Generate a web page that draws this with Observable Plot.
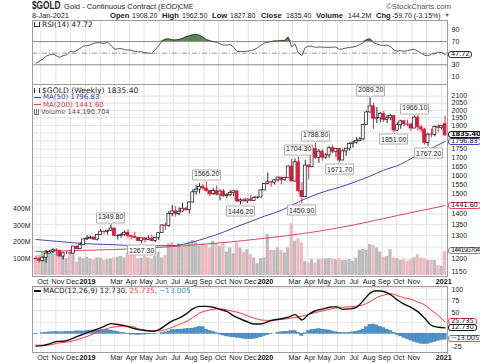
<!DOCTYPE html>
<html><head><meta charset="utf-8">
<script src="https://cdn.jsdelivr.net/npm/d3@7"></script>
<script src="https://cdn.jsdelivr.net/npm/@observablehq/plot@0.6"></script>
<style>
html,body{margin:0;padding:0;background:#fff;}
#c{position:relative;width:480px;height:363px;overflow:hidden;font-family:"Liberation Sans",Arial,sans-serif;color:#222;}
#c svg{position:absolute;left:0;overflow:visible;}
.t{position:absolute;white-space:nowrap;line-height:1;}
.lg{font-family:"DejaVu Sans",Verdana,sans-serif;}
.vb{position:absolute;left:448px;height:5px;line-height:5px;font-size:6.8px;padding:0 2px;border:1px solid #333;border-radius:3px;background:#fff;white-space:nowrap;color:#222;font-family:"DejaVu Sans",Verdana,sans-serif;letter-spacing:-0.2px;}
.ic{display:inline-block;vertical-align:middle;margin-right:2px;}
</style></head>
<body><div id="c"></div>
<script>
// ---------------- DATA ----------------
const weekStart = "2018-09-21"; // first weekly bar (weeks follow every 7 days)
const opens = [
1201,1199,1192,1205,1222,1229,1236,1233,1210,1223,1223,1222,1252,1241,1258,
1283,1287,1291,1282,1303,1318,1316,1322,1332,1298,1299,1303,1313,1298,1295,1290,1276,1288,1281,1287,1277,1289,1311,1346,1344,1400,1413,1400,1412,1426,1419,1457,1509,1523,1537,1529,1515,1499,1515,1497,1513,1489,1494,1505,1514,1462,1468,1463,1472,1465,1481,1482,
1519,1553,1562,1560,1572,1587,1573,1586,1649,1566,1673,1516,1484,1654,1645,1752,1698,1735,1700,1713,1756,1735,1751,1683,1737,1753,1781,1790,1801,1810,1902,1986,2028,1944,1947,1975,1934,1947,1962,1866,1900,1926,1906,1905,1879,1951,1886,1872,1788,1840,1839,1888,
1883,1908.2];
const highs = [
1212,1206,1209,1234,1234,1244,1243,1237,1224,1230,1237,1252,1255,1269,1286,
1300,1298,1296,1306,1327,1320,1323,1349.8,1335,1304,1310,1321,1327,1301,1315,1293,1290,1289,1300,1303,1289,1311,1349,1358,1412,1443,1438,1431,1453,1433,1460,1522,1546,1555,1551,1566.2,1520,1528,1541,1522,1524,1502,1518,1519,1516,1476,1477,1474,1494,1488,1486,1520,
1553,1613,1564,1575,1590,1589,1589,1651,1691,1692,1704.3,1560,1685,1658,1753,1788.8,1748,1747,1724,1765,1775,1752,1756,1747,1753,1788,1800,1820,1820,1904,1994,2089.2,2050,2020,1985,1992,1967,1973,1965,1917,1933,1934,1934,1912,1966.1,1965,1898,1881,1848,1875,1895,1907,
1897,1962.5];
const lows = [
1195,1183,1187,1182,1222,1223,1212,1209,1196,1219,1215,1222,1238,1241,1256,
1279,1283,1279,1276,1302,1304,1302,1320,1297,1280,1289,1297,1286,1281,1287,1273,1267.3,1268,1279,1273,1270,1279,1310,1325,1338,1387,1385,1392,1408,1413,1400,1455,1494,1500,1520,1510,1485,1493,1490,1465,1482,1478,1485,1487,1456,1446.2,1457,1452,1460,1463,1474,1481,
1517,1549,1536,1548,1563,1549,1566,1585,1565,1563,1506,1450.9,1482,1576,1644,1690,1667,1680,1690,1697,1722,1700,1671.7,1683,1707,1739,1757,1780,1796,1802,1900,1980,1874,1911,1916,1918,1911,1931,1851,1860,1874,1890,1890,1860,1877,1862,1855,1775,1767.2,1820,1826,1853,
1869,1827.8];
const closes = [
1199,1192,1205,1222,1229,1236,1233,1210,1223,1223,1222,1252,1241,1258,1283,
1287,1291,1282,1303,1318,1316,1322,1332,1298,1299,1303,1313,1298,1295,1290,1276,1288,1281,1287,1277,1289,1311,1346,1344,1400,1413,1400,1412,1426,1419,1457,1509,1523,1537,1529,1515,1499,1515,1497,1513,1489,1494,1505,1514,1462,1468,1463,1472,1465,1481,1482,1519,
1553,1562,1560,1572,1587,1573,1586,1649,1566,1673,1516,1484,1654,1645,1752,1698,1735,1700,1713,1756,1735,1751,1683,1737,1753,1781,1790,1801,1810,1902,1986,2028,1944,1947,1975,1934,1947,1962,1866,1900,1926,1906,1905,1879,1951,1886,1872,1788,1840,1839,1888,1883,
1895,1835.4];
// weekly volume, millions
const volumesM = [
100,120,140,150,140,150,130,120,140,100,120,140,80,110,100,110,100,95,105,105,
90,95,100,105,110,115,105,135,120,120,100,105,115,105,100,115,140,105,120,190,
195,180,190,170,185,200,210,200,175,190,180,165,205,190,175,195,140,165,130,195,
165,140,155,125,105,70,100,105,245,150,150,165,150,135,165,310,205,220,195,85,
75,95,75,95,95,100,100,100,95,100,90,90,95,85,105,150,155,150,185,180,
165,140,110,115,155,105,100,90,95,85,95,105,125,105,100,90,90,90,60,55,
144.19];
const lastVolume = 144190704;
// RSI(14), weekly
const rsi = [
32.5,36,40,45,47,48.5,45.5,43,46,47, 53,52,55,58.5,62.5,63,64.5,67,68,68,
67,69,64,57,57.5,58,56,55.6,55,53, 52.5,52.5,51,50,50,56,63,71,74,74.5,
73,72.8,73.8,75.5,78.2,80,81.6,82.4,81,78, 73.5,71.5,70,68.8,66,64,64,65,60,53,
53,53,53.5,54.5,56,59.5,63.5,67.5,69,70, 71,71,72,72,78,61,66,50,46,60,
62,62,60,60.7,60.6,60,60,60.5,60.5,56.5, 57.5,59,60,60.6,62,65,68,73,75,68,
66,64,63.5,64,61.5,55.5,53.5,54.4,53.4,54.5, 55.8,56.6,53.5,50,46.5,45.5,48.6,49,51.8,51,
47.72];
// MACD(12,26,9) line and signal, read every second week
const macdLine = [-27,-26,-22,-17,-16.5,-13,-6.5,-1,5,10, 16,22,20,17.5,13,9,7,5.3,8.5,18,
28,34,42.5,54,59.5,59.6,57.5,53,48.5,39, 32,26,21,21,26,30.5,32.5,36,41.5,30,
42,50,53.5,57.5,59,53,54,57.5,72,88.5, 93.5,92,85,73.5,64.5,57.5,48,34,18,14, 12.73];
const signalLine = [-25,-25,-24.5,-21,-19,-17.5,-13,-8.5,-3,3, 9,13.5,15.5,16.5,16,11,8,6,6,9,
14,20,26,35,45,50,53,54,52,48.5, 45,39,34,30,29,29.5,31,33,35.5,38,
42,46,49.5,53,56,57.5,58.5,60,63,69.5, 79,84,87,83,78,75,69,63,51,40, 25.735];
// MACD histogram, weekly
const histogram = [
-1,0,1, 2,3,3,4,3,3,4,4,4,5,5, 5,6,6,7, 7,8,8,8,7, 5,4,2,1,
-1,-2,-2,-3,-2,-2,-1,-1,-1,0, 2,3,5, 8,8,9,9,10,10,11, 13,15,14, 9,6,4,
1,-2,-4,-6,-7,-8,-9,-10, -11,-12,-12,-11,-10,-8, -5,-3,-1,0, 2,3,4,4, 6,6, 2, -5,1,
6,8,9,10,9,8,7, 5,3,2,1,1,2,3, 4,6,9, 14,19,20,18,15, 12,9,6, 2, -3,-6,-9,
-12,-15,-18,-20,-22,-23,-22, -20,-18,-16,-14,-13.005];
// moving averages
const ma50Dates = ["2018-09-21","2018-11-02","2018-12-28","2019-03-01","2019-05-03","2019-06-28","2019-08-02","2019-09-06","2019-10-04","2019-11-01","2019-12-06","2020-01-03","2020-02-07","2020-03-13","2020-04-10","2020-05-08","2020-06-05","2020-07-03","2020-08-07","2020-09-04","2020-10-09","2020-11-06","2020-12-04","2021-01-08"];
const ma50Values = [1283,1275,1265,1260,1255,1256,1268,1290,1310,1335,1365,1390,1418,1460,1490,1515,1535,1560,1595,1628,1662,1705,1745,1796.83];
const ma200Dates = ["2018-09-21","2018-12-28","2019-04-26","2019-07-26","2019-10-25","2020-01-03","2020-04-03","2020-07-03","2020-10-02","2021-01-08"];
const ma200Values = [1231,1236,1244,1256,1272,1288,1313,1348,1393,1441.6];
// annotated highs and lows
const annDates = ["2019-02-22","2019-04-26","2019-09-06","2019-11-15","2020-03-13","2020-03-20","2020-04-17","2020-06-05","2020-08-07","2020-09-25","2020-11-06","2020-12-04"];
const annPrices = [1349.8,1267.3,1566.2,1446.2,1704.3,1450.9,1788.8,1671.7,2089.2,1851.0,1966.1,1767.2];
const annKinds = ["high","low","high","low","high","low","high","low","high","low","high","low"];
// axes
const priceGrid = [1150,1200,1250,1300,1350,1400,1450,1500,1550,1600,1650,1700,1750,1800,1850,1900,1950,2000,2050,2100];
const priceTickLabels = [1150,1200,1300,1350,1400,1500,1550,1600,1650,1700,1750,1900,1950,2000,2050,2100];
const volTicks = [100,200,300,400];
const rsiTicks = [10,30,70,90];
const macdGrid = [-25,0,25,50,75,100];
const macdTickLabels = [-25,50,75,100];
const monthTickDates = ["2018-10-01","2018-11-01","2018-12-01","2019-01-01","2019-03-01","2019-04-01","2019-05-01","2019-06-01","2019-07-01","2019-08-01","2019-09-01","2019-10-01","2019-11-01","2019-12-01","2020-01-01","2020-03-01","2020-04-01","2020-05-01","2020-06-01","2020-07-01","2020-08-01","2020-09-01","2020-10-01","2020-11-01","2021-01-01"];
const monthTickLabels = ["Oct","Nov","Dec","2019","Mar","Apr","May","Jun","Jul","Aug","Sep","Oct","Nov","Dec","2020","Mar","Apr","May","Jun","Jul","Aug","Sep","Oct","Nov","2021"];
const header = {symbol:"$GOLD", name:"Gold - Continuous Contract (EOD)", exch:"CME", date:"8-Jan-2021", volume:"144.2M", chg:"-59.70 (-3.15%)"};

// ---------------- BUILD ----------------
const c = document.getElementById("c");
const DAY = 864e5;
const RED = "#dc1a3c";
const xDomain = [new Date("2018-09-14"), new Date("2021-01-13")];
const xOpt = {type:"utc", domain:xDomain, axis:null};
const weeks = closes.map((_, i) => new Date(Date.parse(weekStart) + 7 * i * DAY));
const candles = weeks.map((date, i) => {
  const o = opens[i], h = highs[i], l = lows[i], cl = closes[i];
  const pc = i ? closes[i - 1] : o;
  const down = cl < pc;
  return {date, o, h, l, c: cl, down, col: down ? RED : "#111",
    body: cl >= o ? "#ffffff" : (down ? RED : "#111"),
    vol: volumesM[i], vfill: down ? "#f2b8c2" : "#bcbcbc",
    x1: new Date(+date - 3 * DAY), x2: new Date(+date + 3 * DAY),
    vx1: new Date(+date - 3.3 * DAY), vx2: new Date(+date + 3.3 * DAY)};
});
const gridMonths = d3.utcMonth.range(new Date("2018-10-01"), new Date("2021-01-02"));
const baseStyle = {background:"transparent", overflow:"visible", fontFamily:"Liberation Sans, Arial, sans-serif", fontSize:"7px", color:"#222"};
function mk(opts, top) {
  const p = Plot.plot(Object.assign({width:480, marginLeft:32, marginRight:33, marginTop:0, marginBottom:0, style:baseStyle}, opts));
  p.style.position = "absolute"; p.style.top = top + "px"; p.style.left = "0px";
  c.appendChild(p); return p;
}
function txt(html, left, top, css) {
  const d = document.createElement("div"); d.className = "t";
  d.style.left = left + "px"; d.style.top = top + "px";
  Object.assign(d.style, css || {}); d.innerHTML = html; c.appendChild(d); return d;
}
function vbox(text, cy, border, extra) {
  const d = document.createElement("div"); d.className = "vb";
  d.style.top = (cy - 3.5) + "px"; d.style.borderColor = border;
  Object.assign(d.style, extra || {}); d.textContent = text; c.appendChild(d); return d;
}
const GRID = "#e3e3e3", FRAME = "#9c9c9c";
const axisR = (ticks) => Plot.axisY(ticks, {anchor:"right", tickSize:0, tickPadding:4, tickFormat:d => String(d), label:null});

// RSI panel
const rsiData = weeks.map((date, i) => ({date, v: rsi[i]}));
const rsiPlot = mk({height:64, x:xOpt, y:{domain:[0,100], range:[61.7,3.7], axis:null, label:null}, marks:[
  Plot.ruleX(gridMonths, {stroke:GRID}),
  Plot.areaY(rsiData, {x:"date", y1:70, y2:d => Math.max(70, d.v), fill:"#5a875a"}),
  Plot.ruleY([70, 30], {stroke:"#8a8a8a"}),
  Plot.ruleY([50], {stroke:"#999", strokeDasharray:"5,2,1,2"}),
  Plot.line(rsiData, {x:"date", y:"v", stroke:"#333", strokeWidth:0.8}),
  Plot.frame({stroke:FRAME}),
  axisR(rsiTicks)
]}, 20);

// main panel: grid layer
const priceY = {type:"log", domain:[1150,2100], range:[186.8,11.7], axis:null, label:null};
mk({height:192, x:xOpt, y:priceY, marks:[
  Plot.ruleX(gridMonths, {stroke:GRID}),
  Plot.ruleY(priceGrid, {stroke:GRID}),
  Plot.frame({stroke:FRAME}),
  axisR(priceTickLabels)
]}, 84);
// volume layer
const volPlot = mk({height:192, x:xOpt, y:{domain:[0,400], range:[191,124.2], axis:null, label:null}, marks:[
  Plot.rect(candles, {x1:"vx1", x2:"vx2", y1:0, y2:"vol", fill:"vfill"}),
  Plot.axisY(volTicks, {anchor:"left", tickSize:0, tickPadding:2, tickFormat:d => d + "M", label:null})
]}, 84);
// price layer
const ann = annDates.map((d, i) => ({date:new Date(d), p:annPrices[i], t:annPrices[i].toFixed(2), hi:annKinds[i] === "high"}));
const tipBase = {x:"date", y:"p", title:"t", pointerSize:3, textPadding:1.5, fontSize:7, fill:"white", stroke:"#b0b0b0", pathFilter:"none", fontFamily:"Liberation Sans, Arial, sans-serif"};
const annMarks = Plot.tip ? [
  Plot.tip(ann.filter(d => d.hi), {...tipBase, anchor:"bottom"}),
  Plot.tip(ann.filter(d => !d.hi), {...tipBase, anchor:"top"})
] : [
  Plot.text(ann.filter(d => d.hi), {x:"date", y:"p", text:"t", dy:-7, fontSize:7, stroke:"white", fill:"#222"}),
  Plot.text(ann.filter(d => !d.hi), {x:"date", y:"p", text:"t", dy:7, fontSize:7, stroke:"white", fill:"#222"})
];
const ma50 = ma50Dates.map((d, i) => ({date:new Date(d), v:ma50Values[i]}));
const ma200 = ma200Dates.map((d, i) => ({date:new Date(d), v:ma200Values[i]}));
const pricePlot = mk({height:192, x:xOpt, y:priceY, marks:[
  Plot.line(ma200, {x:"date", y:"v", stroke:"#e8455e", strokeWidth:1, curve:"monotone-x"}),
  Plot.line(ma50, {x:"date", y:"v", stroke:"#4646b0", strokeWidth:1, curve:"monotone-x"}),
  Plot.ruleX(candles, {x:"date", y1:"l", y2:"h", stroke:"col", strokeWidth:0.9}),
  Plot.rect(candles, {x1:"x1", x2:"x2", y1:"o", y2:"c", fill:"body", stroke:"col", strokeWidth:0.7}),
  ...annMarks
]}, 84);

// axis strips
const monthTicks = monthTickDates.map((d, i) => ({date:new Date(d), label:monthTickLabels[i], year:/^\d{4}$/.test(monthTickLabels[i])}));
function strip(top) {
  mk({height:11, x:xOpt, marks:[
    Plot.text(monthTicks.filter(d => !d.year), {x:"date", text:"label", frameAnchor:"middle", dx:2, fontSize:7.2, fill:"#222"}),
    Plot.text(monthTicks.filter(d => d.year), {x:"date", text:"label", frameAnchor:"middle", dx:2, fontSize:7.2, fontWeight:"bold", fill:"#111"})
  ]}, top);
}
strip(276); strip(352);

// MACD panel
const macdData = macdLine.map((v, j) => ({date:weeks[2 * j], m:v, s:signalLine[j]}));
const histData = candles.map((d, i) => ({x1:d.vx1, x2:d.vx2, v:histogram[i]}));
const macdPlot = mk({height:66, x:xOpt, y:{domain:[0,100], range:[47.2,1.3], axis:null, label:null}, marks:[
  Plot.ruleX(gridMonths, {stroke:GRID}),
  Plot.ruleY(macdGrid, {stroke:GRID}),
  Plot.rect(histData, {x1:"x1", x2:"x2", y1:0, y2:"v", fill:"#4d95cc", stroke:"#2d6e9e", strokeWidth:0.4}),
  Plot.line(macdData, {x:"date", y:"s", stroke:"#ff3b3b", strokeWidth:1, curve:"monotone-x"}),
  Plot.line(macdData, {x:"date", y:"m", stroke:"#111", strokeWidth:1.4, curve:"monotone-x"}),
  Plot.frame({stroke:FRAME}),
  Plot.axisY(macdTickLabels, {anchor:"right", tickSize:0, tickPadding:4, dy:1.5, tickFormat:d => String(d), label:null})
]}, 286);

// ---------------- TEXT ----------------
const last = closes.length - 1;
const fmt2 = d3.format(".2f"), fmt3 = d3.format(".3f"), fmtInt = d3.format(",d");
txt(header.symbol, 31.5, 0, {fontWeight:"bold", fontSize:"11.5px", transform:"scaleX(0.72)", transformOrigin:"left top"});
txt(header.name, 64, 3, {fontSize:"7.6px"});
txt(header.exch, 179, 3.8, {fontSize:"6.4px"});
txt("&copy;StockCharts.com", 386, 3, {fontSize:"7.8px", color:"#555"});
txt(header.date, 32, 12.2, {fontSize:"7.3px"});
const statItems = [["Open",fmt2(opens[last]),110,132],["High",fmt2(highs[last]),162,182],["Low",fmt2(lows[last]),212,230],["Close",fmt2(closes[last]),261,286],["Volume",header.volume,316,348],["Chg",header.chg,376,392]];
statItems.forEach(([l, v, xl, xv]) => { txt(l, xl, 11.8, {fontWeight:"bold", fontSize:"7.6px"}); txt(v, xv, 12.4, {fontSize:"7px"}); });
txt("&#9660;", 444.5, 12.7, {fontSize:"5.5px", color:RED});

const ic = (css) => `<span class="ic" style="${css}"></span>`;
txt(ic("width:4px;height:4px;border:1px solid #333;border-top:none") + "RSI(14) " + fmt2(rsi[last]), 34, 21, {fontSize:"7.4px"}).classList.add("lg");
txt(ic("width:4px;height:5px;border-left:1.5px solid #333;border-right:1.5px solid #333") + header.symbol + " (Weekly) " + fmt2(closes[last]), 34, 86.5, {fontSize:"7.6px"}).classList.add("lg");
txt(ic("width:7px;height:1.5px;background:#4646b0") + "MA(50) " + fmt2(ma50Values[ma50Values.length-1]), 34, 94.2, {fontSize:"7px", color:"#3a3aa8"}).classList.add("lg");
txt(ic("width:7px;height:1.5px;background:#e8455e") + "MA(200) " + fmt2(ma200Values[ma200Values.length-1]), 34, 101.5, {fontSize:"7px", color:"#e03050"}).classList.add("lg");
txt(ic("width:5px;height:5px;border-bottom:1px solid #777;background:linear-gradient(90deg,#777 0 1px,#fff 1px 2px,#777 2px 3px,#fff 3px 4px,#777 4px)") + "Volume " + fmtInt(lastVolume), 34, 109, {fontSize:"6.6px", color:"#555"}).classList.add("lg");
txt(ic("width:7px;height:1.5px;background:#111") + "MACD(12,26,9) " + fmt3(macdLine[macdLine.length-1]) + ", <span style='color:#ff3b3b'>" + fmt3(signalLine[signalLine.length-1]) + ",</span> <span style='color:#3d8ecf'>" + fmt3(histogram[last]) + "</span>", 34, 287, {fontSize:"7.2px"}).classList.add("lg");

// value boxes on the right, placed with the plots' scales
const yR = rsiPlot.scale("y"), yP = pricePlot.scale("y"), yV = volPlot.scale("y"), yM = macdPlot.scale("y");
vbox(fmt2(rsi[last]), 20 + yR.apply(rsi[last]), "#333");
const cClose = 84 + yP.apply(closes[last]);
vbox(fmt2(closes[last]), cClose, "#111", {fontWeight:"bold", color:"#111"});
vbox(fmt2(ma50Values[ma50Values.length-1]), Math.max(84 + yP.apply(ma50Values[ma50Values.length-1]), cClose + 7), "#4646b0");
vbox(fmt2(ma200Values[ma200Values.length-1]), 84 + yP.apply(ma200Values[ma200Values.length-1]), "#e8455e");
vbox(String(lastVolume), 84 + yV.apply(volumesM[last]), "#888", {letterSpacing:"-0.9px", fontSize:"6.4px"});
const cSig = 286 + yM.apply(signalLine[signalLine.length-1]);
vbox(fmt3(signalLine[signalLine.length-1]), cSig, "#ff3b3b");
vbox(fmt3(macdLine[macdLine.length-1]), Math.max(286 + yM.apply(macdLine[macdLine.length-1]), cSig + 6.5), "#111");
vbox(fmt3(histogram[last]), 286 + yM.apply(histogram[last]) - 0.5, "#3d8ecf");
</script></body></html>
